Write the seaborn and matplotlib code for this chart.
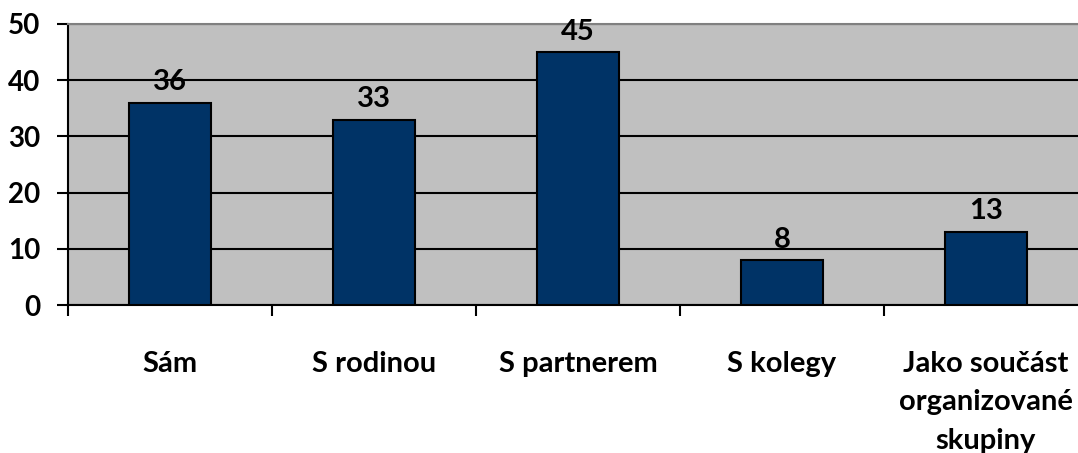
import numpy as np
import matplotlib
matplotlib.use("Agg")
import matplotlib.pyplot as plt
import seaborn as sns

categories = ["Sám", "S rodinou", "S partnerem", "S kolegy",
              "Jako součást\norganizované\nskupiny"]
values = [36, 33, 45, 8, 13]

sns.set_style("white")
plt.rcParams["font.family"] = ["Lato", "DejaVu Sans"]
plt.rcParams["font.weight"] = "bold"
plt.rcParams["text.color"] = "black"
plt.rcParams["xtick.color"] = "black"
plt.rcParams["ytick.color"] = "black"

fig = plt.figure(figsize=(10.78, 4.53), dpi=100)
ax = fig.add_axes([68 / 1078, 1 - 305 / 453, (1088 - 68) / 1078, (305 - 24) / 453])
ax.set_facecolor("#C0C0C0")

sns.barplot(x=list(range(len(categories))), y=values, color="#003366",
            edgecolor="black", linewidth=1.5, width=0.40, saturation=1,
            ax=ax, zorder=3)

ax.set_ylim(0, 50)
ax.set_xlim(-0.5, len(categories) - 0.5)
ax.set_yticks(np.arange(0, 51, 10))
ax.yaxis.grid(True, color="black", linewidth=1.5, zorder=0)
ax.set_axisbelow(True)

ax.set_xticks(np.arange(-0.5, len(categories), 1.0))
ax.set_xticklabels([])
ax.set_xticks(np.arange(len(categories)), minor=True)
ax.set_xticklabels(categories, minor=True, fontsize=21, fontweight="bold",
                   linespacing=1.6, va="top")
ax.tick_params(axis="x", which="major", direction="out", length=8, width=1.5,
               color="black", bottom=True)
ax.tick_params(axis="x", which="minor", length=0, pad=33)
ax.tick_params(axis="y", direction="out", length=8, width=1.5, color="black",
               left=True, labelsize=20, pad=12)
for lab in ax.get_yticklabels():
    lab.set_fontweight("bold")

for side in ["left", "bottom"]:
    ax.spines[side].set_color("black")
    ax.spines[side].set_linewidth(1.5)
ax.spines["top"].set_color("#808080")
ax.spines["top"].set_linewidth(1.5)
ax.spines["right"].set_visible(False)

for i, v in enumerate(values):
    ax.annotate(str(v), (i, v), xytext=(0, 9), textcoords="offset points",
                ha="center", va="baseline", fontsize=21, fontweight="bold",
                zorder=4)

ax.set_xlabel("")
ax.set_ylabel("")
fig.savefig("out.png", dpi=100)
